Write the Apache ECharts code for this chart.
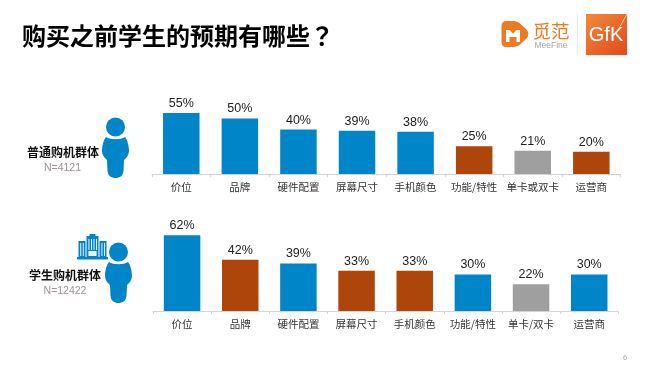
<!DOCTYPE html>
<html>
<head>
<meta charset="utf-8">
<style>html,body{margin:0;padding:0;background:#fff}#main{width:650px;height:366px}</style>
<script src="https://cdn.jsdelivr.net/npm/echarts@6/dist/echarts.min.js"></script>
</head>
<body>
<div id="main"></div>
<script>
var titleText = "购买之前学生的预期有哪些？"
var topCategories = ["价位", "品牌", "硬件配置", "屏幕尺寸", "手机颜色", "功能/特性", "单卡或双卡", "运营商"]
var topValues = [55, 50, 40, 39, 38, 25, 21, 20]
var topGroups = ["a", "a", "a", "a", "a", "b", "c", "b"]
var bottomCategories = ["价位", "品牌", "硬件配置", "屏幕尺寸", "手机颜色", "功能/特性", "单卡/双卡", "运营商"]
var bottomValues = [62, 42, 39, 33, 33, 30, 22, 30]
var bottomGroups = ["a", "b", "a", "b", "b", "a", "c", "a"]
var palette = {a: "#0085c8", b: "#ae460b", c: "#9f9f9f"}

var cjk = '"Noto Sans CJK SC"', latin = '"Liberation Sans", Arial'
var chart = echarts.init(document.getElementById("main"), null, {renderer: "canvas"})

// graphic 组件没有 path 类型，先注册
var reg = echarts.graphic
reg.registerShape("personBody", reg.extendPath("M-9.5 10 C-5 13 5 13 9.5 10 C12 13 13.5 19 13.5 24 C13.5 28 11 31 8.5 33 L8 44 C7.5 49 4 51 0 51 C-4 51 -7.5 49 -8 44 L-8.5 33 C-11 31 -13.5 28 -13.5 24 C-13.5 19 -12 13 -9.5 10 Z", {}))
reg.registerShape("meeBadge", reg.extendPath("M506 21 L513 21 C516 21 518 22 520 23.5 L526 29 C529 32 529 36 526 39 L520 44.5 C518 46 516 47 513 47 L506 47 C503 47 501.5 45 501.5 42 L501.5 26 C501.5 23 503 21 506 21 Z", {}))
reg.registerShape("meeM", reg.extendPath("M506 42 L506 30 L509.5 30 L513 33.5 L516.5 30 L520 30 L520 42 L516.5 42 L516.5 37 L509.5 37 L509.5 42 Z", {}))

function grid(left, top, width, height) { return {left: left, top: top, width: width, height: height, containLabel: false} }
function xaxis(i, cats) { return {type: "category", gridIndex: i, data: cats,
	axisLine: {lineStyle: {color: "#d4d4d4", width: 1}}, axisTick: {show: true, length: 3, alignWithLabel: false, lineStyle: {color: "#d4d4d4"}},
	axisLabel: {interval: 0, margin: 8, fontSize: 10.5, color: "#333", fontFamily: cjk}} }
function yaxis(i, max) { return {type: "value", gridIndex: i, min: 0, max: max, show: false} }
function bars(i, values, groups) { return {type: "bar", xAxisIndex: i, yAxisIndex: i, barWidth: 36.5, animation: false,
	data: values.map(function(v, k) { return {value: v, itemStyle: {color: palette[groups[k]]}} }),
	label: {show: true, position: "top", distance: 3, formatter: "{c}%", fontSize: 12.5, color: "#222", fontFamily: latin}} }

function person(x, y) { return {type: "group", x: x, y: y, silent: true, children: [
	{type: "circle", shape: {cx: 0, cy: 0, r: 9.5}, style: {fill: palette.a}},
	{type: "personBody", style: {fill: palette.a}},
]} }
function building(x, y) { var c = palette.a, kids = [
	{type: "rect", shape: {x: 0, y: 23, width: 31, height: 2.5}, style: {fill: c}},
	{type: "rect", shape: {x: 1.5, y: 7, width: 7, height: 16}, style: {fill: c}},
	{type: "rect", shape: {x: 22.5, y: 7, width: 7, height: 16}, style: {fill: c}},
	{type: "rect", shape: {x: 9.5, y: 2, width: 12, height: 21}, style: {fill: c}},
	{type: "rect", shape: {x: 12.5, y: 0, width: 6, height: 3}, style: {fill: c}},
	{type: "rect", shape: {x: 11.5, y: 17, width: 8, height: 5}, style: {fill: "#fff"}},
]
	;[3.3, 5.8, 24.5, 27, 11.5, 14, 16.5, 19].forEach(function(lx) { var mid = lx > 10 && lx < 20
		kids.push({type: "rect", shape: {x: lx, y: mid? 5: 9, width: 0.9, height: mid? 11: 13}, style: {fill: "#fff"}})
	})
	return {type: "group", x: x, y: y, silent: true, children: kids}
}
function txt(x, y, text, size, color, family, weight, align) { return {type: "text", x: x, y: y, silent: true,
	style: {text: text, fontSize: size, fill: color, fontFamily: family, fontWeight: weight||"normal", textAlign: align||"left", textVerticalAlign: "middle"}} }

chart.setOption({
	backgroundColor: "#fff", animation: false,
	grid: [grid(152, 107.4, 468.6, 66.6), grid(153, 225.6, 465.3, 85.4)],
	xAxis: [xaxis(0, topCategories), xaxis(1, bottomCategories)],
	yAxis: [yaxis(0, 60), yaxis(1, 70)],
	series: [bars(0, topValues, topGroups), bars(1, bottomValues, bottomGroups)],
	graphic: [
		txt(22, 36, titleText, 24, "#000", '"Noto Sans CJK JP"', "bold"),
		person(115.5, 127),
		person(118.5, 252),
		building(77, 234),
		txt(63, 152, "普通购机群体", 12, "#111", cjk, "bold", "center"),
		txt(62.5, 168, "N=4121", 10.5, "#9b9290", latin, "normal", "center"),
		txt(65, 275, "学生购机群体", 12, "#111", cjk, "bold", "center"),
		txt(65, 291, "N=12422", 10.5, "#9b9290", latin, "normal", "center"),
		txt(625, 358, "6", 7.5, "#a8a8a8", latin, "normal", "center"),
		{type: "meeBadge", silent: true, style: {fill: "#ee7b22"}},
		{type: "meeM", silent: true, style: {fill: "#fff"}},
		txt(551, 31, "觅范", 18.5, "#ee7b22", cjk, "normal", "center"),
		txt(551, 45.5, "MeeFine", 8.5, "#a5a5a5", latin, "normal", "center"),
		{type: "line", silent: true, shape: {x1: 577.5, y1: 14, x2: 577.5, y2: 54}, style: {stroke: "#ececec", lineWidth: 1}},
		{type: "rect", silent: true, shape: {x: 586, y: 14, width: 41, height: 41}, style: {fill: new echarts.graphic.LinearGradient(0, 0, 1, 1, [{offset: 0, color: "#f08a3c"}, {offset: 1, color: "#e2491c"}])}},
		{type: "line", silent: true, shape: {x1: 618, y1: 30, x2: 627, y2: 14}, style: {stroke: "#ffe6c8", lineWidth: 0.7}},
		txt(606, 35, "GfK", 20, "#fff", latin, "normal", "center"),
	],
})
</script>
</body>
</html>
